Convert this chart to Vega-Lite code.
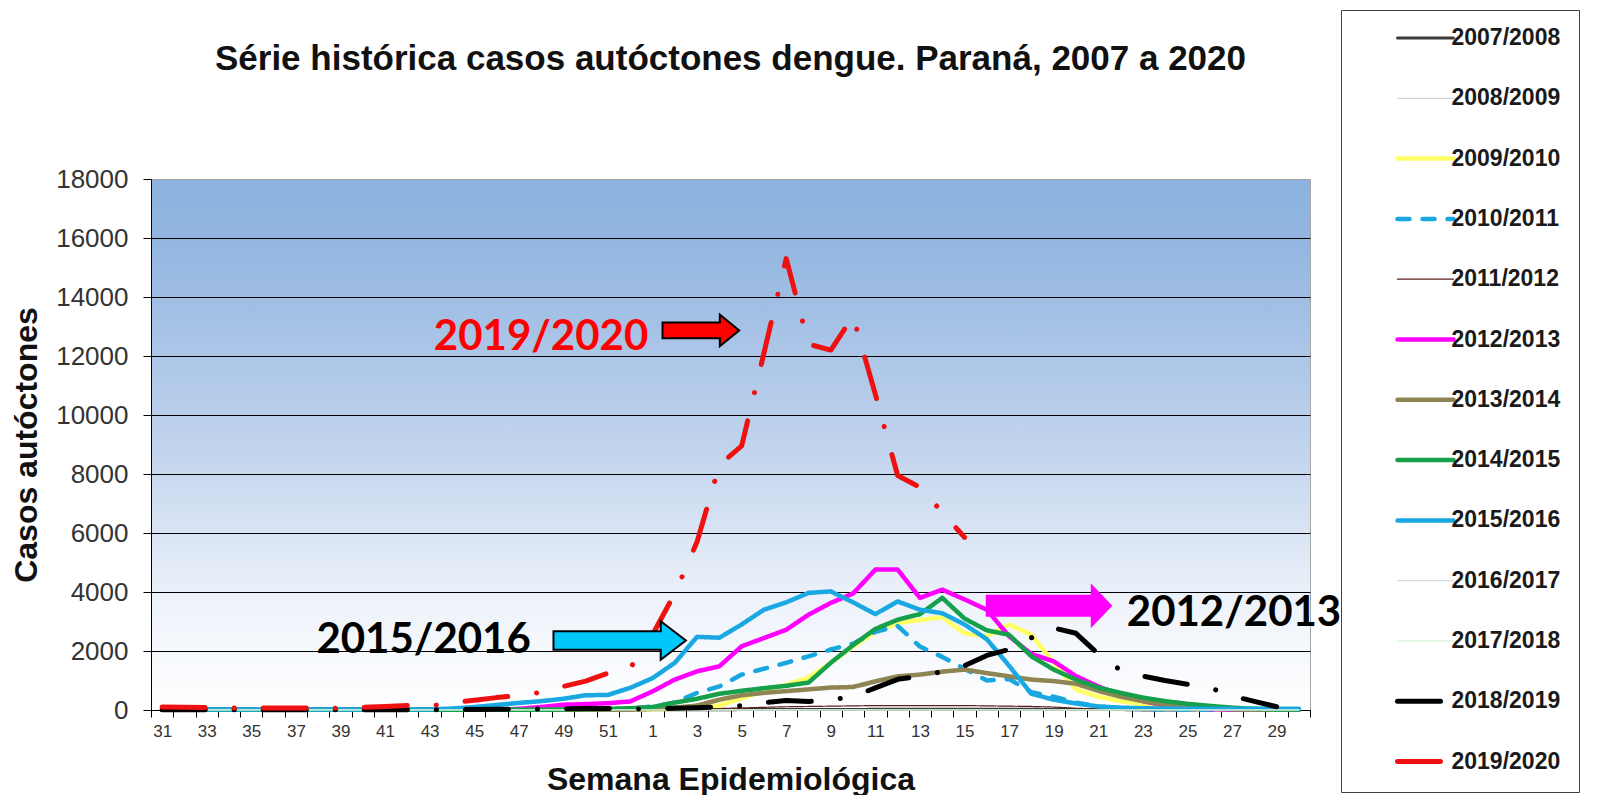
{
"$schema": "https://vega.github.io/schema/vega-lite/v6.json",
"width": 1159, "height": 531,
"autosize": {"type": "none"},
"padding": {"left": 151, "top": 179, "right": 292, "bottom": 85},
"background": "white",
"title": {"text": "Série histórica casos autóctones dengue. Paraná, 2007 a 2020", "font": "Liberation Sans", "fontSize": 35, "fontWeight": "bold", "color": "#111111", "anchor": "middle", "baseline": "alphabetic", "offset": -95},
"view": {"fill": {"gradient": "linear", "x1": 0, "y1": 0, "x2": 0, "y2": 1, "stops": [{"offset": 0, "color": "#8db2df"}, {"offset": 0.12, "color": "#93b6e1"}, {"offset": 0.5, "color": "#c0d3ed"}, {"offset": 0.8, "color": "#eef3fa"}, {"offset": 1, "color": "#ffffff"}]}, "stroke": "#a6a6a6"},
"config": {"font": "Liberation Sans", "axis": {"domainColor": "#000000", "tickColor": "#000000"}},
"encoding": {
  "x": {"field": "w", "type": "ordinal", "bandPosition": 0.5,
    "scale": {"type": "band", "paddingInner": 0, "paddingOuter": 0, "domain": ["31","32","33","34","35","36","37","38","39","40","41","42","43","44","45","46","47","48","49","50","51","52","1","2","3","4","5","6","7","8","9","10","11","12","13","14","15","16","17","18","19","20","21","22","23","24","25","26","27","28","29","30"]},
    "axis": {"title": "Semana Epidemiológica", "titleFontSize": 32, "titleFontWeight": "bold", "titleColor": "#111111", "titleY": 69, "titleBaseline": "middle", "labelAngle": 0, "labelFont": "Liberation Sans Narrow, Liberation Sans, sans-serif", "labelFontSize": 17, "labelColor": "#333333", "labelPadding": 6, "tickSize": 7, "tickBand": "extent", "labelOverlap": false, "labelExpr": "toNumber(datum.value) % 2 == 1 ? datum.value : ''", "grid": false}},
  "y": {"field": "v", "type": "quantitative", "scale": {"domain": [0, 18000], "nice": false},
    "axis": {"values": [0,2000,4000,6000,8000,10000,12000,14000,16000,18000], "format": "d", "title": "Casos autóctones", "titleFontSize": 32, "titleFontWeight": "bold", "titleColor": "#111111", "titleX": -125, "titleY": 265.5, "titleAngle": -90, "titleAlign": "center", "titleBaseline": "middle", "labelFontSize": 26, "labelColor": "#333333", "labelPadding": 15, "tickSize": 8, "grid": true, "gridColor": {"condition": {"test": "datum.value === 18000", "value": "#a6a6a6"}, "value": "#000000"}}}
},
"layer": [
{
"data": {"values": [
{"s":"2007/2008","w":"31","v":2},{"s":"2007/2008","w":"32","v":2},{"s":"2007/2008","w":"33","v":2},{"s":"2007/2008","w":"34","v":2},{"s":"2007/2008","w":"35","v":2},{"s":"2007/2008","w":"36","v":2},{"s":"2007/2008","w":"37","v":2},{"s":"2007/2008","w":"38","v":2},{"s":"2007/2008","w":"39","v":2},{"s":"2007/2008","w":"40","v":2},{"s":"2007/2008","w":"41","v":2},{"s":"2007/2008","w":"42","v":2},{"s":"2007/2008","w":"43","v":2},{"s":"2007/2008","w":"44","v":2},{"s":"2007/2008","w":"45","v":2},{"s":"2007/2008","w":"46","v":2},{"s":"2007/2008","w":"47","v":2},{"s":"2007/2008","w":"48","v":2},{"s":"2007/2008","w":"49","v":2},{"s":"2007/2008","w":"50","v":2},{"s":"2007/2008","w":"51","v":2},{"s":"2007/2008","w":"52","v":2},
{"s":"2007/2008","w":"1","v":5},{"s":"2007/2008","w":"2","v":5},{"s":"2007/2008","w":"3","v":5},{"s":"2007/2008","w":"4","v":5},{"s":"2007/2008","w":"5","v":15},{"s":"2007/2008","w":"6","v":15},{"s":"2007/2008","w":"7","v":15},{"s":"2007/2008","w":"8","v":15},{"s":"2007/2008","w":"9","v":15},{"s":"2007/2008","w":"10","v":15},{"s":"2007/2008","w":"11","v":25},{"s":"2007/2008","w":"12","v":25},{"s":"2007/2008","w":"13","v":25},{"s":"2007/2008","w":"14","v":25},{"s":"2007/2008","w":"15","v":25},{"s":"2007/2008","w":"16","v":25},{"s":"2007/2008","w":"17","v":25},{"s":"2007/2008","w":"18","v":25},{"s":"2007/2008","w":"19","v":15},{"s":"2007/2008","w":"20","v":15},{"s":"2007/2008","w":"21","v":15},{"s":"2007/2008","w":"22","v":15},{"s":"2007/2008","w":"23","v":3},{"s":"2007/2008","w":"24","v":3},{"s":"2007/2008","w":"25","v":3},{"s":"2007/2008","w":"26","v":3},{"s":"2007/2008","w":"27","v":3},{"s":"2007/2008","w":"28","v":3},{"s":"2007/2008","w":"29","v":3},{"s":"2007/2008","w":"30","v":3},
{"s":"2008/2009","w":"31","v":3},{"s":"2008/2009","w":"32","v":3},{"s":"2008/2009","w":"33","v":3},{"s":"2008/2009","w":"34","v":3},{"s":"2008/2009","w":"35","v":3},{"s":"2008/2009","w":"36","v":3},{"s":"2008/2009","w":"37","v":3},{"s":"2008/2009","w":"38","v":3},{"s":"2008/2009","w":"39","v":3},{"s":"2008/2009","w":"40","v":3},{"s":"2008/2009","w":"41","v":3},{"s":"2008/2009","w":"42","v":3},{"s":"2008/2009","w":"43","v":3},{"s":"2008/2009","w":"44","v":3},{"s":"2008/2009","w":"45","v":3},{"s":"2008/2009","w":"46","v":3},{"s":"2008/2009","w":"47","v":3},{"s":"2008/2009","w":"48","v":3},{"s":"2008/2009","w":"49","v":3},{"s":"2008/2009","w":"50","v":3},{"s":"2008/2009","w":"51","v":3},{"s":"2008/2009","w":"52","v":3},
{"s":"2008/2009","w":"1","v":3},{"s":"2008/2009","w":"2","v":3},{"s":"2008/2009","w":"3","v":3},{"s":"2008/2009","w":"4","v":3},{"s":"2008/2009","w":"5","v":3},{"s":"2008/2009","w":"6","v":3},{"s":"2008/2009","w":"7","v":3},{"s":"2008/2009","w":"8","v":3},{"s":"2008/2009","w":"9","v":3},{"s":"2008/2009","w":"10","v":3},{"s":"2008/2009","w":"11","v":3},{"s":"2008/2009","w":"12","v":3},{"s":"2008/2009","w":"13","v":3},{"s":"2008/2009","w":"14","v":3},{"s":"2008/2009","w":"15","v":3},{"s":"2008/2009","w":"16","v":3},{"s":"2008/2009","w":"17","v":3},{"s":"2008/2009","w":"18","v":3},{"s":"2008/2009","w":"19","v":3},{"s":"2008/2009","w":"20","v":3},{"s":"2008/2009","w":"21","v":3},{"s":"2008/2009","w":"22","v":3},{"s":"2008/2009","w":"23","v":3},{"s":"2008/2009","w":"24","v":3},{"s":"2008/2009","w":"25","v":3},{"s":"2008/2009","w":"26","v":3},{"s":"2008/2009","w":"27","v":3},{"s":"2008/2009","w":"28","v":3},{"s":"2008/2009","w":"29","v":3},{"s":"2008/2009","w":"30","v":3},
{"s":"2009/2010","w":"31","v":5},{"s":"2009/2010","w":"32","v":5},{"s":"2009/2010","w":"33","v":5},{"s":"2009/2010","w":"34","v":5},{"s":"2009/2010","w":"35","v":5},{"s":"2009/2010","w":"36","v":5},{"s":"2009/2010","w":"37","v":5},{"s":"2009/2010","w":"38","v":5},{"s":"2009/2010","w":"39","v":5},{"s":"2009/2010","w":"40","v":5},{"s":"2009/2010","w":"41","v":5},{"s":"2009/2010","w":"42","v":5},{"s":"2009/2010","w":"43","v":5},{"s":"2009/2010","w":"44","v":5},{"s":"2009/2010","w":"45","v":5},{"s":"2009/2010","w":"46","v":5},{"s":"2009/2010","w":"47","v":5},{"s":"2009/2010","w":"48","v":5},{"s":"2009/2010","w":"49","v":5},{"s":"2009/2010","w":"50","v":5},{"s":"2009/2010","w":"51","v":5},{"s":"2009/2010","w":"52","v":5},
{"s":"2009/2010","w":"1","v":20},{"s":"2009/2010","w":"2","v":40},{"s":"2009/2010","w":"3","v":80},{"s":"2009/2010","w":"4","v":150},{"s":"2009/2010","w":"5","v":400},{"s":"2009/2010","w":"6","v":650},{"s":"2009/2010","w":"7","v":850},{"s":"2009/2010","w":"8","v":1100},{"s":"2009/2010","w":"9","v":1600},{"s":"2009/2010","w":"10","v":2150},{"s":"2009/2010","w":"11","v":2650},{"s":"2009/2010","w":"12","v":2950},{"s":"2009/2010","w":"13","v":3050},{"s":"2009/2010","w":"14","v":3150},{"s":"2009/2010","w":"15","v":2600},{"s":"2009/2010","w":"16","v":2500},{"s":"2009/2010","w":"17","v":2900},{"s":"2009/2010","w":"18","v":2550},{"s":"2009/2010","w":"19","v":1600},{"s":"2009/2010","w":"20","v":700},{"s":"2009/2010","w":"21","v":450},{"s":"2009/2010","w":"22","v":300},{"s":"2009/2010","w":"23","v":200},{"s":"2009/2010","w":"24","v":100},{"s":"2009/2010","w":"25","v":50},{"s":"2009/2010","w":"26","v":20},{"s":"2009/2010","w":"27","v":5},{"s":"2009/2010","w":"28","v":5},{"s":"2009/2010","w":"29","v":5},{"s":"2009/2010","w":"30","v":5},
{"s":"2010/2011","w":"31","v":10},{"s":"2010/2011","w":"32","v":10},{"s":"2010/2011","w":"33","v":10},{"s":"2010/2011","w":"34","v":10},{"s":"2010/2011","w":"35","v":10},{"s":"2010/2011","w":"36","v":10},{"s":"2010/2011","w":"37","v":10},{"s":"2010/2011","w":"38","v":10},{"s":"2010/2011","w":"39","v":10},{"s":"2010/2011","w":"40","v":10},{"s":"2010/2011","w":"41","v":10},{"s":"2010/2011","w":"42","v":10},{"s":"2010/2011","w":"43","v":10},{"s":"2010/2011","w":"44","v":10},{"s":"2010/2011","w":"45","v":10},{"s":"2010/2011","w":"46","v":10},{"s":"2010/2011","w":"47","v":10},{"s":"2010/2011","w":"48","v":10},{"s":"2010/2011","w":"49","v":10},{"s":"2010/2011","w":"50","v":10},{"s":"2010/2011","w":"51","v":10},{"s":"2010/2011","w":"52","v":50},
{"s":"2010/2011","w":"1","v":120},{"s":"2010/2011","w":"2","v":250},{"s":"2010/2011","w":"3","v":580},{"s":"2010/2011","w":"4","v":800},{"s":"2010/2011","w":"5","v":1200},{"s":"2010/2011","w":"6","v":1400},{"s":"2010/2011","w":"7","v":1600},{"s":"2010/2011","w":"8","v":1820},{"s":"2010/2011","w":"9","v":2050},{"s":"2010/2011","w":"10","v":2250},{"s":"2010/2011","w":"11","v":2650},{"s":"2010/2011","w":"12","v":2850},{"s":"2010/2011","w":"13","v":2150},{"s":"2010/2011","w":"14","v":1800},{"s":"2010/2011","w":"15","v":1400},{"s":"2010/2011","w":"16","v":1000},{"s":"2010/2011","w":"17","v":1050},{"s":"2010/2011","w":"18","v":600},{"s":"2010/2011","w":"19","v":450},{"s":"2010/2011","w":"20","v":250},{"s":"2010/2011","w":"21","v":120},{"s":"2010/2011","w":"22","v":60},{"s":"2010/2011","w":"23","v":30},{"s":"2010/2011","w":"24","v":20},{"s":"2010/2011","w":"25","v":10},{"s":"2010/2011","w":"26","v":5},{"s":"2010/2011","w":"27","v":5},{"s":"2010/2011","w":"28","v":5},{"s":"2010/2011","w":"29","v":5},{"s":"2010/2011","w":"30","v":5},
{"s":"2011/2012","w":"31","v":5},{"s":"2011/2012","w":"32","v":5},{"s":"2011/2012","w":"33","v":5},{"s":"2011/2012","w":"34","v":5},{"s":"2011/2012","w":"35","v":5},{"s":"2011/2012","w":"36","v":5},{"s":"2011/2012","w":"37","v":5},{"s":"2011/2012","w":"38","v":5},{"s":"2011/2012","w":"39","v":5},{"s":"2011/2012","w":"40","v":5},{"s":"2011/2012","w":"41","v":5},{"s":"2011/2012","w":"42","v":5},{"s":"2011/2012","w":"43","v":5},{"s":"2011/2012","w":"44","v":5},{"s":"2011/2012","w":"45","v":5},{"s":"2011/2012","w":"46","v":5},{"s":"2011/2012","w":"47","v":5},{"s":"2011/2012","w":"48","v":5},{"s":"2011/2012","w":"49","v":5},{"s":"2011/2012","w":"50","v":5},{"s":"2011/2012","w":"51","v":5},{"s":"2011/2012","w":"52","v":5},
{"s":"2011/2012","w":"1","v":10},{"s":"2011/2012","w":"2","v":20},{"s":"2011/2012","w":"3","v":30},{"s":"2011/2012","w":"4","v":50},{"s":"2011/2012","w":"5","v":70},{"s":"2011/2012","w":"6","v":90},{"s":"2011/2012","w":"7","v":110},{"s":"2011/2012","w":"8","v":120},{"s":"2011/2012","w":"9","v":130},{"s":"2011/2012","w":"10","v":140},{"s":"2011/2012","w":"11","v":150},{"s":"2011/2012","w":"12","v":150},{"s":"2011/2012","w":"13","v":150},{"s":"2011/2012","w":"14","v":150},{"s":"2011/2012","w":"15","v":150},{"s":"2011/2012","w":"16","v":140},{"s":"2011/2012","w":"17","v":130},{"s":"2011/2012","w":"18","v":120},{"s":"2011/2012","w":"19","v":100},{"s":"2011/2012","w":"20","v":60},{"s":"2011/2012","w":"21","v":30},{"s":"2011/2012","w":"22","v":15},{"s":"2011/2012","w":"23","v":5},{"s":"2011/2012","w":"24","v":5},{"s":"2011/2012","w":"25","v":5},{"s":"2011/2012","w":"26","v":5},{"s":"2011/2012","w":"27","v":5},{"s":"2011/2012","w":"28","v":5},{"s":"2011/2012","w":"29","v":5},{"s":"2011/2012","w":"30","v":5},
{"s":"2012/2013","w":"31","v":5},{"s":"2012/2013","w":"32","v":5},{"s":"2012/2013","w":"33","v":5},{"s":"2012/2013","w":"34","v":5},{"s":"2012/2013","w":"35","v":5},{"s":"2012/2013","w":"36","v":5},{"s":"2012/2013","w":"37","v":5},{"s":"2012/2013","w":"38","v":5},{"s":"2012/2013","w":"39","v":5},{"s":"2012/2013","w":"40","v":5},{"s":"2012/2013","w":"41","v":5},{"s":"2012/2013","w":"42","v":5},{"s":"2012/2013","w":"43","v":5},{"s":"2012/2013","w":"44","v":5},{"s":"2012/2013","w":"45","v":5},{"s":"2012/2013","w":"46","v":5},{"s":"2012/2013","w":"47","v":40},{"s":"2012/2013","w":"48","v":100},{"s":"2012/2013","w":"49","v":180},{"s":"2012/2013","w":"50","v":200},{"s":"2012/2013","w":"51","v":230},{"s":"2012/2013","w":"52","v":290},
{"s":"2012/2013","w":"1","v":630},{"s":"2012/2013","w":"2","v":1030},{"s":"2012/2013","w":"3","v":1310},{"s":"2012/2013","w":"4","v":1480},{"s":"2012/2013","w":"5","v":2160},{"s":"2012/2013","w":"6","v":2440},{"s":"2012/2013","w":"7","v":2720},{"s":"2012/2013","w":"8","v":3230},{"s":"2012/2013","w":"9","v":3630},{"s":"2012/2013","w":"10","v":3950},{"s":"2012/2013","w":"11","v":4760},{"s":"2012/2013","w":"12","v":4760},{"s":"2012/2013","w":"13","v":3800},{"s":"2012/2013","w":"14","v":4080},{"s":"2012/2013","w":"15","v":3750},{"s":"2012/2013","w":"16","v":3400},{"s":"2012/2013","w":"17","v":2500},{"s":"2012/2013","w":"18","v":1900},{"s":"2012/2013","w":"19","v":1650},{"s":"2012/2013","w":"20","v":1150},{"s":"2012/2013","w":"21","v":800},{"s":"2012/2013","w":"22","v":500},{"s":"2012/2013","w":"23","v":300},{"s":"2012/2013","w":"24","v":150},{"s":"2012/2013","w":"25","v":80},{"s":"2012/2013","w":"26","v":30},{"s":"2012/2013","w":"27","v":10},{"s":"2012/2013","w":"28","v":5},{"s":"2012/2013","w":"29","v":5},{"s":"2012/2013","w":"30","v":5},
{"s":"2013/2014","w":"31","v":5},{"s":"2013/2014","w":"32","v":5},{"s":"2013/2014","w":"33","v":5},{"s":"2013/2014","w":"34","v":5},{"s":"2013/2014","w":"35","v":5},{"s":"2013/2014","w":"36","v":5},{"s":"2013/2014","w":"37","v":5},{"s":"2013/2014","w":"38","v":5},{"s":"2013/2014","w":"39","v":5},{"s":"2013/2014","w":"40","v":5},{"s":"2013/2014","w":"41","v":5},{"s":"2013/2014","w":"42","v":5},{"s":"2013/2014","w":"43","v":5},{"s":"2013/2014","w":"44","v":5},{"s":"2013/2014","w":"45","v":5},{"s":"2013/2014","w":"46","v":5},{"s":"2013/2014","w":"47","v":5},{"s":"2013/2014","w":"48","v":5},{"s":"2013/2014","w":"49","v":5},{"s":"2013/2014","w":"50","v":5},{"s":"2013/2014","w":"51","v":5},{"s":"2013/2014","w":"52","v":5},
{"s":"2013/2014","w":"1","v":40},{"s":"2013/2014","w":"2","v":80},{"s":"2013/2014","w":"3","v":150},{"s":"2013/2014","w":"4","v":350},{"s":"2013/2014","w":"5","v":500},{"s":"2013/2014","w":"6","v":580},{"s":"2013/2014","w":"7","v":640},{"s":"2013/2014","w":"8","v":700},{"s":"2013/2014","w":"9","v":760},{"s":"2013/2014","w":"10","v":780},{"s":"2013/2014","w":"11","v":970},{"s":"2013/2014","w":"12","v":1140},{"s":"2013/2014","w":"13","v":1200},{"s":"2013/2014","w":"14","v":1300},{"s":"2013/2014","w":"15","v":1370},{"s":"2013/2014","w":"16","v":1250},{"s":"2013/2014","w":"17","v":1140},{"s":"2013/2014","w":"18","v":1030},{"s":"2013/2014","w":"19","v":980},{"s":"2013/2014","w":"20","v":890},{"s":"2013/2014","w":"21","v":650},{"s":"2013/2014","w":"22","v":450},{"s":"2013/2014","w":"23","v":300},{"s":"2013/2014","w":"24","v":180},{"s":"2013/2014","w":"25","v":100},{"s":"2013/2014","w":"26","v":50},{"s":"2013/2014","w":"27","v":20},{"s":"2013/2014","w":"28","v":5},{"s":"2013/2014","w":"29","v":5},{"s":"2013/2014","w":"30","v":5},
{"s":"2014/2015","w":"31","v":5},{"s":"2014/2015","w":"32","v":5},{"s":"2014/2015","w":"33","v":5},{"s":"2014/2015","w":"34","v":5},{"s":"2014/2015","w":"35","v":5},{"s":"2014/2015","w":"36","v":5},{"s":"2014/2015","w":"37","v":5},{"s":"2014/2015","w":"38","v":5},{"s":"2014/2015","w":"39","v":5},{"s":"2014/2015","w":"40","v":5},{"s":"2014/2015","w":"41","v":5},{"s":"2014/2015","w":"42","v":5},{"s":"2014/2015","w":"43","v":5},{"s":"2014/2015","w":"44","v":5},{"s":"2014/2015","w":"45","v":5},{"s":"2014/2015","w":"46","v":5},{"s":"2014/2015","w":"47","v":5},{"s":"2014/2015","w":"48","v":5},{"s":"2014/2015","w":"49","v":20},{"s":"2014/2015","w":"50","v":30},{"s":"2014/2015","w":"51","v":40},{"s":"2014/2015","w":"52","v":60},
{"s":"2014/2015","w":"1","v":100},{"s":"2014/2015","w":"2","v":250},{"s":"2014/2015","w":"3","v":380},{"s":"2014/2015","w":"4","v":550},{"s":"2014/2015","w":"5","v":650},{"s":"2014/2015","w":"6","v":740},{"s":"2014/2015","w":"7","v":820},{"s":"2014/2015","w":"8","v":930},{"s":"2014/2015","w":"9","v":1600},{"s":"2014/2015","w":"10","v":2200},{"s":"2014/2015","w":"11","v":2750},{"s":"2014/2015","w":"12","v":3060},{"s":"2014/2015","w":"13","v":3250},{"s":"2014/2015","w":"14","v":3800},{"s":"2014/2015","w":"15","v":3100},{"s":"2014/2015","w":"16","v":2700},{"s":"2014/2015","w":"17","v":2550},{"s":"2014/2015","w":"18","v":1820},{"s":"2014/2015","w":"19","v":1370},{"s":"2014/2015","w":"20","v":1030},{"s":"2014/2015","w":"21","v":760},{"s":"2014/2015","w":"22","v":580},{"s":"2014/2015","w":"23","v":420},{"s":"2014/2015","w":"24","v":300},{"s":"2014/2015","w":"25","v":210},{"s":"2014/2015","w":"26","v":140},{"s":"2014/2015","w":"27","v":80},{"s":"2014/2015","w":"28","v":40},{"s":"2014/2015","w":"29","v":20},{"s":"2014/2015","w":"30","v":10},
{"s":"2015/2016","w":"31","v":20},{"s":"2015/2016","w":"32","v":20},{"s":"2015/2016","w":"33","v":20},{"s":"2015/2016","w":"34","v":20},{"s":"2015/2016","w":"35","v":20},{"s":"2015/2016","w":"36","v":20},{"s":"2015/2016","w":"37","v":20},{"s":"2015/2016","w":"38","v":20},{"s":"2015/2016","w":"39","v":20},{"s":"2015/2016","w":"40","v":20},{"s":"2015/2016","w":"41","v":20},{"s":"2015/2016","w":"42","v":20},{"s":"2015/2016","w":"43","v":20},{"s":"2015/2016","w":"44","v":50},{"s":"2015/2016","w":"45","v":100},{"s":"2015/2016","w":"46","v":170},{"s":"2015/2016","w":"47","v":240},{"s":"2015/2016","w":"48","v":300},{"s":"2015/2016","w":"49","v":380},{"s":"2015/2016","w":"50","v":500},{"s":"2015/2016","w":"51","v":510},{"s":"2015/2016","w":"52","v":750},
{"s":"2015/2016","w":"1","v":1080},{"s":"2015/2016","w":"2","v":1600},{"s":"2015/2016","w":"3","v":2480},{"s":"2015/2016","w":"4","v":2450},{"s":"2015/2016","w":"5","v":2900},{"s":"2015/2016","w":"6","v":3400},{"s":"2015/2016","w":"7","v":3650},{"s":"2015/2016","w":"8","v":3970},{"s":"2015/2016","w":"9","v":4020},{"s":"2015/2016","w":"10","v":3650},{"s":"2015/2016","w":"11","v":3250},{"s":"2015/2016","w":"12","v":3680},{"s":"2015/2016","w":"13","v":3400},{"s":"2015/2016","w":"14","v":3280},{"s":"2015/2016","w":"15","v":2900},{"s":"2015/2016","w":"16","v":2400},{"s":"2015/2016","w":"17","v":1500},{"s":"2015/2016","w":"18","v":550},{"s":"2015/2016","w":"19","v":350},{"s":"2015/2016","w":"20","v":220},{"s":"2015/2016","w":"21","v":120},{"s":"2015/2016","w":"22","v":80},{"s":"2015/2016","w":"23","v":60},{"s":"2015/2016","w":"24","v":50},{"s":"2015/2016","w":"25","v":40},{"s":"2015/2016","w":"26","v":40},{"s":"2015/2016","w":"27","v":40},{"s":"2015/2016","w":"28","v":40},{"s":"2015/2016","w":"29","v":40},{"s":"2015/2016","w":"30","v":40},
{"s":"2016/2017","w":"31","v":5},{"s":"2016/2017","w":"32","v":5},{"s":"2016/2017","w":"33","v":5},{"s":"2016/2017","w":"34","v":5},{"s":"2016/2017","w":"35","v":5},{"s":"2016/2017","w":"36","v":5},{"s":"2016/2017","w":"37","v":5},{"s":"2016/2017","w":"38","v":5},{"s":"2016/2017","w":"39","v":5},{"s":"2016/2017","w":"40","v":5},{"s":"2016/2017","w":"41","v":5},{"s":"2016/2017","w":"42","v":5},{"s":"2016/2017","w":"43","v":5},{"s":"2016/2017","w":"44","v":5},{"s":"2016/2017","w":"45","v":5},{"s":"2016/2017","w":"46","v":5},{"s":"2016/2017","w":"47","v":5},{"s":"2016/2017","w":"48","v":5},{"s":"2016/2017","w":"49","v":5},{"s":"2016/2017","w":"50","v":5},{"s":"2016/2017","w":"51","v":5},{"s":"2016/2017","w":"52","v":5},
{"s":"2016/2017","w":"1","v":5},{"s":"2016/2017","w":"2","v":5},{"s":"2016/2017","w":"3","v":5},{"s":"2016/2017","w":"4","v":5},{"s":"2016/2017","w":"5","v":5},{"s":"2016/2017","w":"6","v":5},{"s":"2016/2017","w":"7","v":5},{"s":"2016/2017","w":"8","v":5},{"s":"2016/2017","w":"9","v":5},{"s":"2016/2017","w":"10","v":5},{"s":"2016/2017","w":"11","v":5},{"s":"2016/2017","w":"12","v":5},{"s":"2016/2017","w":"13","v":5},{"s":"2016/2017","w":"14","v":5},{"s":"2016/2017","w":"15","v":5},{"s":"2016/2017","w":"16","v":5},{"s":"2016/2017","w":"17","v":5},{"s":"2016/2017","w":"18","v":5},{"s":"2016/2017","w":"19","v":5},{"s":"2016/2017","w":"20","v":5},{"s":"2016/2017","w":"21","v":5},{"s":"2016/2017","w":"22","v":5},{"s":"2016/2017","w":"23","v":5},{"s":"2016/2017","w":"24","v":5},{"s":"2016/2017","w":"25","v":5},{"s":"2016/2017","w":"26","v":5},{"s":"2016/2017","w":"27","v":5},{"s":"2016/2017","w":"28","v":5},{"s":"2016/2017","w":"29","v":5},{"s":"2016/2017","w":"30","v":5},
{"s":"2017/2018","w":"31","v":5},{"s":"2017/2018","w":"32","v":5},{"s":"2017/2018","w":"33","v":5},{"s":"2017/2018","w":"34","v":5},{"s":"2017/2018","w":"35","v":5},{"s":"2017/2018","w":"36","v":5},{"s":"2017/2018","w":"37","v":5},{"s":"2017/2018","w":"38","v":5},{"s":"2017/2018","w":"39","v":5},{"s":"2017/2018","w":"40","v":5},{"s":"2017/2018","w":"41","v":5},{"s":"2017/2018","w":"42","v":5},{"s":"2017/2018","w":"43","v":5},{"s":"2017/2018","w":"44","v":5},{"s":"2017/2018","w":"45","v":5},{"s":"2017/2018","w":"46","v":5},{"s":"2017/2018","w":"47","v":5},{"s":"2017/2018","w":"48","v":5},{"s":"2017/2018","w":"49","v":5},{"s":"2017/2018","w":"50","v":5},{"s":"2017/2018","w":"51","v":5},{"s":"2017/2018","w":"52","v":5},
{"s":"2017/2018","w":"1","v":5},{"s":"2017/2018","w":"2","v":5},{"s":"2017/2018","w":"3","v":5},{"s":"2017/2018","w":"4","v":5},{"s":"2017/2018","w":"5","v":5},{"s":"2017/2018","w":"6","v":5},{"s":"2017/2018","w":"7","v":5},{"s":"2017/2018","w":"8","v":5},{"s":"2017/2018","w":"9","v":5},{"s":"2017/2018","w":"10","v":5},{"s":"2017/2018","w":"11","v":5},{"s":"2017/2018","w":"12","v":5},{"s":"2017/2018","w":"13","v":5},{"s":"2017/2018","w":"14","v":5},{"s":"2017/2018","w":"15","v":5},{"s":"2017/2018","w":"16","v":5},{"s":"2017/2018","w":"17","v":5},{"s":"2017/2018","w":"18","v":5},{"s":"2017/2018","w":"19","v":5},{"s":"2017/2018","w":"20","v":5},{"s":"2017/2018","w":"21","v":5},{"s":"2017/2018","w":"22","v":5},{"s":"2017/2018","w":"23","v":5},{"s":"2017/2018","w":"24","v":5},{"s":"2017/2018","w":"25","v":5},{"s":"2017/2018","w":"26","v":5},{"s":"2017/2018","w":"27","v":5},{"s":"2017/2018","w":"28","v":5},{"s":"2017/2018","w":"29","v":5},{"s":"2017/2018","w":"30","v":5},
{"s":"2018/2019","w":"31","v":5},{"s":"2018/2019","w":"32","v":5},{"s":"2018/2019","w":"33","v":5},{"s":"2018/2019","w":"34","v":5},{"s":"2018/2019","w":"35","v":5},{"s":"2018/2019","w":"36","v":5},{"s":"2018/2019","w":"37","v":5},{"s":"2018/2019","w":"38","v":5},{"s":"2018/2019","w":"39","v":5},{"s":"2018/2019","w":"40","v":5},{"s":"2018/2019","w":"41","v":5},{"s":"2018/2019","w":"42","v":5},{"s":"2018/2019","w":"43","v":5},{"s":"2018/2019","w":"44","v":5},{"s":"2018/2019","w":"45","v":20},{"s":"2018/2019","w":"46","v":25},{"s":"2018/2019","w":"47","v":30},{"s":"2018/2019","w":"48","v":30},{"s":"2018/2019","w":"49","v":40},{"s":"2018/2019","w":"50","v":50},{"s":"2018/2019","w":"51","v":50},{"s":"2018/2019","w":"52","v":40},
{"s":"2018/2019","w":"1","v":30},{"s":"2018/2019","w":"2","v":60},{"s":"2018/2019","w":"3","v":80},{"s":"2018/2019","w":"4","v":100},{"s":"2018/2019","w":"5","v":150},{"s":"2018/2019","w":"6","v":250},{"s":"2018/2019","w":"7","v":320},{"s":"2018/2019","w":"8","v":290},{"s":"2018/2019","w":"9","v":350},{"s":"2018/2019","w":"10","v":450},{"s":"2018/2019","w":"11","v":750},{"s":"2018/2019","w":"12","v":1040},{"s":"2018/2019","w":"13","v":1150},{"s":"2018/2019","w":"14","v":1300},{"s":"2018/2019","w":"15","v":1500},{"s":"2018/2019","w":"16","v":1850},{"s":"2018/2019","w":"17","v":2050},{"s":"2018/2019","w":"18","v":2450},{"s":"2018/2019","w":"19","v":2780},{"s":"2018/2019","w":"20","v":2600},{"s":"2018/2019","w":"21","v":1900},{"s":"2018/2019","w":"22","v":1350},{"s":"2018/2019","w":"23","v":1150},{"s":"2018/2019","w":"24","v":1000},{"s":"2018/2019","w":"25","v":870},{"s":"2018/2019","w":"26","v":760},{"s":"2018/2019","w":"27","v":480},{"s":"2018/2019","w":"28","v":290},{"s":"2018/2019","w":"29","v":110},
{"s":"2019/2020","w":"31","v":100},{"s":"2019/2020","w":"32","v":90},{"s":"2019/2020","w":"33","v":80},{"s":"2019/2020","w":"34","v":70},{"s":"2019/2020","w":"35","v":70},{"s":"2019/2020","w":"36","v":70},{"s":"2019/2020","w":"37","v":70},{"s":"2019/2020","w":"38","v":70},{"s":"2019/2020","w":"39","v":60},{"s":"2019/2020","w":"40","v":90},{"s":"2019/2020","w":"41","v":120},{"s":"2019/2020","w":"42","v":150},{"s":"2019/2020","w":"43","v":130},{"s":"2019/2020","w":"44","v":250},{"s":"2019/2020","w":"45","v":330},{"s":"2019/2020","w":"46","v":420},{"s":"2019/2020","w":"47","v":490},{"s":"2019/2020","w":"48","v":600},{"s":"2019/2020","w":"49","v":800},{"s":"2019/2020","w":"50","v":980},{"s":"2019/2020","w":"51","v":1250},{"s":"2019/2020","w":"52","v":1420},
{"s":"2019/2020","w":"1","v":2550},{"s":"2019/2020","w":"2","v":3950},{"s":"2019/2020","w":"3","v":5700},{"s":"2019/2020","w":"4","v":8300},{"s":"2019/2020","w":"5","v":8950},{"s":"2019/2020","w":"6","v":12100},{"s":"2019/2020","w":"7","v":15300},{"s":"2019/2020","w":"8","v":12400},{"s":"2019/2020","w":"9","v":12200},{"s":"2019/2020","w":"10","v":13350},{"s":"2019/2020","w":"11","v":10700},{"s":"2019/2020","w":"12","v":7950},{"s":"2019/2020","w":"13","v":7550},{"s":"2019/2020","w":"14","v":6700},{"s":"2019/2020","w":"15","v":5850}
]},
"mark": {"type": "line", "strokeCap": "round", "strokeJoin": "round"},
"encoding": {
  "order": {"value": null},
  "color": {"field": "s", "type": "nominal",
    "scale": {"domain": ["2007/2008","2008/2009","2009/2010","2010/2011","2011/2012","2012/2013","2013/2014","2014/2015","2015/2016","2016/2017","2017/2018","2018/2019","2019/2020"],
      "range": ["#3a3a3a","#d4d4d4","#ffff66","#19a7e0","#5c1f1f","#ff00ff","#8e8454","#17a04c","#1aa8e2","#d6dce4","#c6eec6","#000000","#ee1111"]},
    "legend": {"title": null, "orient": "none", "legendX": 1190, "legendY": -169, "padding": 18, "symbolOffset": 55, "clipHeight": 20, "rowPadding": 37.3, "strokeColor": "#404040", "fillColor": "#ffffff", "symbolType": "stroke", "symbolSize": 3136, "labelFont": "Liberation Sans", "labelFontWeight": "bold", "labelFontSize": 23, "labelColor": "#1a1a1a", "labelOffset": 14.5,
      "encode": {"symbols": {"update": {"strokeCap": {"value": "round"}, "opacity": {"value": 1}, "strokeWidth": {"signal": "indexof(['2008/2009','2011/2012','2016/2017','2017/2018'], datum.value) >= 0 ? 1.2 : (datum.value == '2007/2008' ? 3 : ((datum.value == '2018/2019' || datum.value == '2019/2020') ? 5 : 4.5))"}}}}}},
  "strokeDash": {"field": "s", "type": "nominal",
    "scale": {"domain": ["2007/2008","2008/2009","2009/2010","2010/2011","2011/2012","2012/2013","2013/2014","2014/2015","2015/2016","2016/2017","2017/2018","2018/2019","2019/2020"],
      "range": [[1,0],[1,0],[1,0],[12,13],[1,0],[1,0],[1,0],[1,0],[1,0],[1,0],[1,0],[43,29,0.1,29],[43,29,0.1,29]]},
    "legend": {"title": null, "orient": "none", "legendX": 1190, "legendY": -169, "padding": 18, "symbolOffset": 55, "clipHeight": 20, "rowPadding": 37.3, "strokeColor": "#404040", "fillColor": "#ffffff", "symbolType": "stroke", "symbolSize": 3136, "labelFont": "Liberation Sans", "labelFontWeight": "bold", "labelFontSize": 23, "labelColor": "#1a1a1a", "labelOffset": 14.5,
      "encode": {"symbols": {"update": {"strokeCap": {"value": "round"}, "opacity": {"value": 1}, "strokeWidth": {"signal": "indexof(['2008/2009','2011/2012','2016/2017','2017/2018'], datum.value) >= 0 ? 1.2 : (datum.value == '2007/2008' ? 3 : ((datum.value == '2018/2019' || datum.value == '2019/2020') ? 5 : 4.5))"}}}}}},
  "strokeWidth": {"condition": [{"test": "indexof(['2008/2009','2011/2012','2016/2017','2017/2018'], datum.s) >= 0", "value": 1.2}, {"test": "datum.s == '2007/2008'", "value": 3}, {"test": "datum.s == '2018/2019' || datum.s == '2019/2020'", "value": 5}], "value": 4.5}
}
},
{"data": {"values": [{"t": "2019/2020", "w": "48", "v": 12650}]},
 "mark": {"type": "text", "font": "Lato", "fontWeight": "bold", "fontSize": 42, "color": "#ff0000", "align": "center", "baseline": "middle"},
 "encoding": {"text": {"field": "t"}}},
{"data": {"values": [{"t": "2015/2016", "w": "43", "v": 2380}]},
 "mark": {"type": "text", "font": "Lato", "fontWeight": "bold", "fontSize": 42, "color": "#000000", "align": "center", "baseline": "middle", "dx": -6},
 "encoding": {"text": {"field": "t"}}},
{"data": {"values": [{"t": "2012/2013", "w": "27", "v": 3300}]},
 "mark": {"type": "text", "font": "Lato", "fontWeight": "bold", "fontSize": 42, "color": "#000000", "align": "center", "baseline": "middle", "dx": 2},
 "encoding": {"text": {"field": "t"}}},
{"data": {"values": [{"w": "3", "v": 12868}]},
 "mark": {"type": "point", "shape": "M -0.901 -0.205 L 0.594 -0.205 L 0.594 -0.413 L 1.099 0 L 0.594 0.413 L 0.594 0.205 L -0.901 0.205 Z", "size": 5883, "filled": true, "fill": "#ff0000", "stroke": "#000000", "opacity": 1}},
{"data": {"values": [{"w": "52", "v": 2356}]},
 "mark": {"type": "point", "shape": "M -1.159 -0.138 L 0.461 -0.138 L 0.461 -0.29 L 0.841 0 L 0.461 0.29 L 0.461 0.138 L -1.159 0.138 Z", "size": 17530, "filled": true, "fill": "#00c8fa", "stroke": "#000000", "opacity": 1}},
{"data": {"values": [{"w": "19", "v": 3536}]},
 "mark": {"type": "point", "shape": "M -1.073 -0.174 L 0.586 -0.174 L 0.586 -0.355 L 0.927 0 L 0.586 0.355 L 0.586 0.174 L -1.073 0.174 Z", "size": 16028, "filled": true, "fill": "#ff00ff", "opacity": 1}}
]
}
